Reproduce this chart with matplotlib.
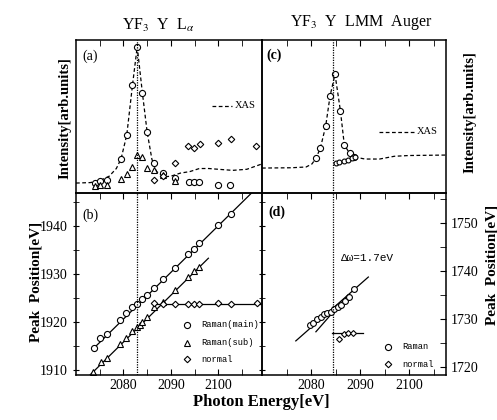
import matplotlib
matplotlib.use("Agg")
import matplotlib.pyplot as plt
import numpy as np

plt.rcParams['font.family'] = ['Liberation Serif', 'DejaVu Serif']
plt.rcParams['mathtext.fontset'] = 'stix'

# ---- (a) YF3 Y L-alpha intensities (arb. units) ----
a_main_x = [2074.0, 2075.05, 2076.5, 2079.5, 2080.7, 2081.9, 2082.9, 2084.0, 2085.0,
            2086.4, 2088.3, 2090.8, 2093.8, 2094.8, 2095.9, 2099.9, 2102.5]
a_main_y = [0.067, 0.076, 0.085, 0.224, 0.379, 0.704, 0.956, 0.652, 0.397,
            0.198, 0.133, 0.10, 0.072, 0.072, 0.072, 0.054, 0.054]
a_sub_x = [2074.0, 2075.05, 2076.5, 2079.4, 2080.7, 2081.9, 2082.9, 2084.0, 2085.0,
           2086.4, 2088.3, 2090.8]
a_sub_y = [0.046, 0.05, 0.05, 0.094, 0.122, 0.172, 0.246, 0.233, 0.165,
           0.15, 0.116, 0.076]
a_norm_x = [2086.4, 2088.3, 2090.8, 2093.7, 2094.8, 2096.1, 2099.9, 2102.6, 2108.0]
a_norm_y = [0.085, 0.111, 0.194, 0.307, 0.296, 0.32, 0.329, 0.355, 0.307]
a_xas_x = [2070, 2073, 2075, 2077, 2078.5, 2079.5, 2080.7, 2081.9, 2082.9, 2084.0,
           2085.0, 2086.0, 2087.0, 2088.5, 2090, 2092, 2094, 2096, 2098, 2100,
           2103, 2106, 2109.2]
a_xas_y = [0.065, 0.068, 0.08, 0.11, 0.16, 0.224, 0.379, 0.704, 0.956, 0.652,
           0.397, 0.22, 0.14, 0.105, 0.11, 0.13, 0.14, 0.16, 0.16, 0.155,
           0.148, 0.155, 0.19]

# ---- (b) YF3 Y L-alpha peak positions (eV) ----
b_main_x = [2073.8, 2075.1, 2076.5, 2079.3, 2080.5, 2081.8, 2082.9, 2083.9, 2084.9,
            2086.4, 2088.3, 2090.8, 2093.6, 2094.8, 2096.0, 2099.9, 2102.6]
b_main_y = [1914.6, 1916.6, 1917.5, 1920.4, 1921.8, 1923.1, 1923.75, 1924.7, 1925.6,
            1927.0, 1929.0, 1931.3, 1934.1, 1935.2, 1936.4, 1940.2, 1942.6]
b_sub_x = [2073.6, 2075.2, 2076.5, 2079.3, 2080.5, 2081.9, 2082.9, 2083.5, 2084.0,
           2084.9, 2086.4, 2088.3, 2090.8, 2093.7, 2094.8, 2096.0]
b_sub_y = [1909.5, 1911.6, 1912.6, 1915.4, 1916.7, 1918.1, 1919.0, 1919.4, 1920.1,
           1921.0, 1923.1, 1924.2, 1926.7, 1929.4, 1930.6, 1931.4]
b_norm_x = [2086.4, 2088.3, 2090.8, 2093.6, 2094.8, 2096.0, 2099.9, 2102.6, 2108.2]
b_norm_y = [1924.0, 1923.8, 1923.75, 1923.75, 1923.75, 1923.75, 1923.9, 1923.8, 1923.9]
b_main_fit_x = [2073.5, 2107.0]
b_main_fit_y = [1914.3, 1946.9]
b_sub_fit_x = [2073.0, 2097.9]
b_sub_fit_y = [1909.0, 1933.3]
b_norm_fit_x = [2086.5, 2109.2]
b_norm_fit_y = [1923.8, 1923.8]

# ---- (c) YF3 Y LMM Auger intensities ----
c_main_x = [2081.0, 2081.9, 2083.0, 2083.9, 2084.9, 2086.0, 2086.8, 2087.9, 2088.8]
c_main_y = [0.227, 0.292, 0.438, 0.636, 0.776, 0.538, 0.314, 0.259, 0.237]
c_low_x = [2085.0, 2085.8, 2086.7, 2087.6, 2088.4, 2089.0]
c_low_y = [0.194, 0.20, 0.209, 0.216, 0.227, 0.233]
c_xas_x = [2070, 2076, 2079, 2080.2, 2081.0, 2081.9, 2083.0, 2083.9, 2084.9, 2086.0,
           2086.8, 2087.9, 2089, 2091, 2094, 2097, 2100, 2107.6]
c_xas_y = [0.163, 0.165, 0.17, 0.19, 0.227, 0.292, 0.438, 0.636, 0.776, 0.538,
           0.314, 0.259, 0.235, 0.222, 0.222, 0.24, 0.245, 0.248]

# ---- (d) YF3 Y LMM Auger peak positions ----
d_raman_x = [2079.8, 2080.5, 2081.3, 2082.0, 2082.65, 2083.3, 2084.0, 2084.7, 2085.45,
             2086.2, 2087.0, 2087.8, 2088.8]
d_raman_y = [1728.8, 1729.3, 1730.0, 1730.5, 1731.0, 1731.4, 1731.6, 1732.1, 1732.5,
             1733.0, 1733.75, 1734.7, 1736.25]
d_norm_x = [2085.8, 2086.7, 2087.6, 2088.5]
d_norm_y = [1725.9, 1726.9, 1727.2, 1727.2]
d_fit1_x = [2076.9, 2091.7]
d_fit1_y = [1725.5, 1738.8]
d_fit2_x = [2081.0, 2087.6]
d_fit2_y = [1727.4, 1735.1]
d_norm_fit_x = [2084.2, 2090.7]
d_norm_fit_y = [1727.1, 1727.1]

edge_left = 2082.8
edge_right = 2084.5

W, H = 497, 420
fig = plt.figure(figsize=(W / 100, H / 100), dpi=100)


def box(x0, y0, x1, y1):
    return [x0 / W, 1 - y1 / H, (x1 - x0) / W, (y1 - y0) / H]


ax_a = fig.add_axes(box(76, 40, 262, 193))
ax_b = fig.add_axes(box(76, 193, 262, 375))
ax_c = fig.add_axes(box(262, 40, 446, 193))
ax_d = fig.add_axes(box(262, 193, 446, 375))
for ax in (ax_a, ax_b, ax_c, ax_d):
    ax.set_facecolor('none')

circ = dict(marker='o', ms=4.4, mfc='white', mec='black', mew=0.8, ls='none')
tri = dict(marker='^', ms=4.0, mfc='white', mec='black', mew=0.8, ls='none')
dia = dict(marker='D', ms=3.3, mfc='white', mec='black', mew=0.8, ls='none')

# (a)
ax_a.plot(a_xas_x, a_xas_y, ls=(0, (3, 2)), color='black', lw=0.9)
ax_a.plot(a_main_x, a_main_y, **circ)
ax_a.plot(a_sub_x, a_sub_y, **tri)
ax_a.plot(a_norm_x, a_norm_y, **dia)
ax_a.set_xlim(2070, 2109.2)
ax_a.set_ylim(0, 1)

# (b)
ax_b.plot(b_main_fit_x, b_main_fit_y, color='black', lw=0.9)
ax_b.plot(b_sub_fit_x, b_sub_fit_y, color='black', lw=0.9)
ax_b.plot(b_norm_fit_x, b_norm_fit_y, color='black', lw=0.9)
ax_b.plot(b_main_x, b_main_y, **circ)
ax_b.plot(b_sub_x, b_sub_y, **tri)
ax_b.plot(b_norm_x, b_norm_y, **dia)
ax_b.set_xlim(2070, 2109.2)
ax_b.set_ylim(1908.96, 1946.9)

# (c)
ax_c.plot(c_xas_x, c_xas_y, ls=(0, (3, 2)), color='black', lw=0.9)
ax_c.plot(c_main_x, c_main_y, **circ)
ax_c.plot(c_low_x, c_low_y, **dict(circ, ms=3.5))
ax_c.set_xlim(2070, 2107.55)
ax_c.set_ylim(0, 1)

# (d)
ax_d.plot(d_fit1_x, d_fit1_y, color='black', lw=0.9)
ax_d.plot(d_fit2_x, d_fit2_y, color='black', lw=0.9)
ax_d.plot(d_norm_fit_x, d_norm_fit_y, color='black', lw=0.9)
ax_d.plot(d_raman_x, d_raman_y, **dict(circ, ms=4.2))
ax_d.plot(d_norm_x, d_norm_y, **dict(dia, ms=3.0))
ax_d.set_xlim(2070, 2107.55)
ax_d.set_ylim(1718.4, 1756.3)

# edge lines
for ax in (ax_a, ax_b):
    ax.axvline(edge_left, color='black', ls=(0, (1, 1)), lw=0.9)
for ax in (ax_c, ax_d):
    ax.axvline(edge_right, color='black', ls=(0, (1, 1)), lw=0.9)

# ticks
for ax in (ax_a, ax_b, ax_c, ax_d):
    ax.set_xticks([2080, 2090, 2100])
    ax.set_xticks(np.arange(2075, 2110, 5), minor=True)
    for s in ax.spines.values():
        s.set_linewidth(1.1)

for ax in (ax_a, ax_c):
    ax.tick_params(axis='x', which='both', top=True, bottom=False, direction='in',
                   length=4, labelbottom=False)
    ax.set_yticks([])

for ax in (ax_b, ax_d):
    ax.tick_params(axis='x', which='both', top=True, bottom=True, direction='inout',
                   length=5, labelsize=10, pad=3)
    ax.tick_params(axis='x', which='both', bottom=True, direction='in', length=4)
    ax.tick_params(axis='y', which='both', labelsize=10)

ax_b.set_yticks([1910, 1920, 1930, 1940])
ax_b.set_yticks(np.arange(1915, 1950, 10), minor=True)
ax_b.tick_params(axis='y', which='both', left=True, right=True, direction='inout', length=5)
ax_d.set_yticks([1720, 1730, 1740, 1750])
ax_d.set_yticks(np.arange(1725, 1760, 10), minor=True)
ax_d.yaxis.tick_right()
ax_d.tick_params(axis='y', which='both', left=False, right=True, direction='in', length=4)

# panel labels
ax_a.text(0.035, 0.895, '(a)', transform=ax_a.transAxes, fontsize=10, va='center')
ax_b.text(0.035, 0.879, '(b)', transform=ax_b.transAxes, fontsize=10, va='center')
ax_c.text(0.025, 0.90, '(c)', transform=ax_c.transAxes, fontsize=10, va='center',
          fontweight='bold')
ax_d.text(0.035, 0.892, '(d)', transform=ax_d.transAxes, fontsize=10, va='center',
          fontweight='bold')

# XAS keys
ax_a.plot([0.73, 0.837], [0.569, 0.569], transform=ax_a.transAxes, color='black',
          ls=(0, (3, 2)), lw=0.9)
ax_a.text(0.855, 0.569, 'XAS', transform=ax_a.transAxes, fontsize=7.5, va='center')
ax_c.plot([0.6375, 0.835], [0.40, 0.40], transform=ax_c.transAxes, color='black',
          ls=(0, (3, 2)), lw=0.9)
ax_c.text(0.84, 0.40, 'XAS', transform=ax_c.transAxes, fontsize=7.5, va='center')

# legends for (b) and (d)
mono = ['Liberation Mono', 'DejaVu Sans Mono']
b_keys = [(circ, 'Raman(main)', 0.275), (tri, 'Raman(sub)', 0.177), (dia, 'normal', 0.086)]
for style, label, yy in b_keys:
    ax_b.plot([0.598], [yy], transform=ax_b.transAxes, **style)
    ax_b.text(0.672, yy, label, transform=ax_b.transAxes, family=mono, fontsize=6.3,
              va='center')
d_keys = [(circ, 'Raman', 0.155), (dia, 'normal', 0.06)]
for style, label, yy in d_keys:
    ax_d.plot([0.685], [yy], transform=ax_d.transAxes, **style)
    ax_d.text(0.7625, yy, label, transform=ax_d.transAxes, family=mono, fontsize=6.3,
              va='center')
ax_d.text(0.43, 0.645, '\u0394\u03c9=1.7eV', transform=ax_d.transAxes, family=mono,
          fontsize=8, va='center')

# titles and axis labels
fig.text(158 / W, 1 - 25 / H, 'YF$_3$  Y  L$_\\alpha$', ha='center', va='center',
         fontsize=11.5)
fig.text(361 / W, 1 - 23 / H, 'YF$_3$  Y  LMM  Auger', ha='center', va='center',
         fontsize=11.5)
fig.text(65 / W, 1 - 118 / H, 'Intensity[arb.units]', rotation=90, ha='center',
         va='center', fontsize=10.5, fontweight='bold')
fig.text(36 / W, 1 - 282 / H, 'Peak  Position[eV]', rotation=90, ha='center',
         va='center', fontsize=11, fontweight='bold')
fig.text(470 / W, 1 - 112 / H, 'Intensity[arb.units]', rotation=90, ha='center',
         va='center', fontsize=10.5, fontweight='bold')
fig.text(492 / W, 1 - 265 / H, 'Peak  Position[eV]', rotation=90, ha='center',
         va='center', fontsize=11, fontweight='bold')
fig.text(261 / W, 1 - 402 / H, 'Photon Energy[eV]', ha='center', va='center',
         fontsize=12, fontweight='bold')

fig.savefig('out.png', dpi=100)
